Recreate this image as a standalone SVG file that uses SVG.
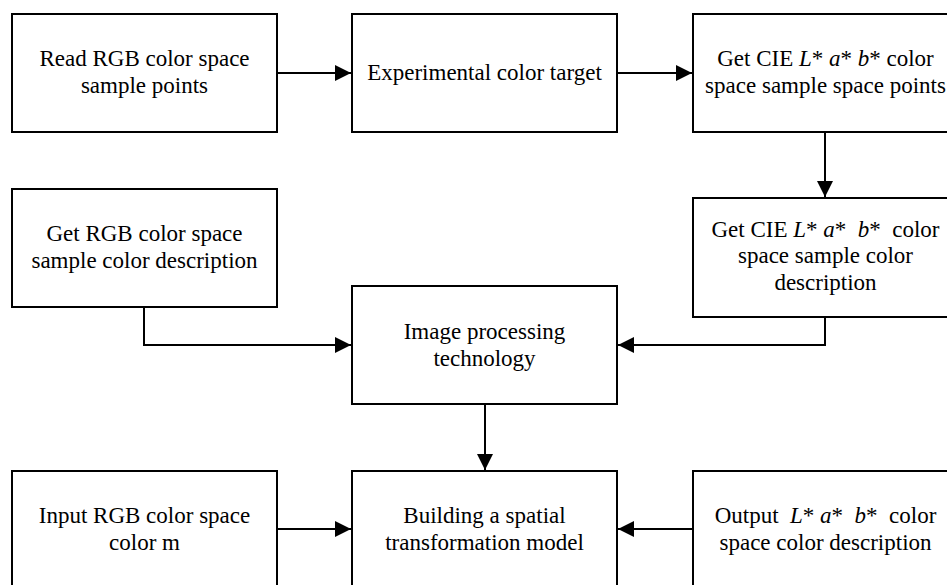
<svg xmlns="http://www.w3.org/2000/svg" width="947" height="585" viewBox="0 0 947 585">
<style>
.box{fill:#fff;stroke:#000;stroke-width:2}
text{font-family:'Liberation Serif','Times New Roman',Tinos,'DejaVu Serif',serif;font-size:23px;fill:#000;text-anchor:middle}
.i{font-style:italic}
.c{fill:none;stroke:#000;stroke-width:2}
</style>
<defs>
<marker id="ah" markerUnits="userSpaceOnUse" markerWidth="16" markerHeight="16" refX="16" refY="8" orient="auto">
<path d="M0,0 L16,8 L0,16 z" fill="#000"/>
</marker>
</defs>
<rect width="947" height="585" fill="#fff"/>
<g id="connectors">
<path class="c" d="M277,73 H351" marker-end="url(#ah)"/>
<path class="c" d="M617,73 H692" marker-end="url(#ah)"/>
<path class="c" d="M825,132 V197" marker-end="url(#ah)"/>
<path class="c" d="M144,307 V345 H351" marker-end="url(#ah)"/>
<path class="c" d="M825,317 V345 H618" marker-end="url(#ah)"/>
<path class="c" d="M485,404 V470" marker-end="url(#ah)"/>
<path class="c" d="M277,529 H351" marker-end="url(#ah)"/>
<path class="c" d="M693,529 H618" marker-end="url(#ah)"/>
</g>
<g id="read-rgb">
<rect class="box" x="12" y="14" width="265" height="118"/>
<text x="144.5" y="66">Read RGB color space</text>
<text x="144.5" y="93">sample points</text>
</g>
<g id="experimental">
<rect class="box" x="352" y="14" width="265" height="118"/>
<text x="484.5" y="80">Experimental color target</text>
</g>
<g id="get-cie-points">
<rect class="box" x="693" y="14" width="265" height="118"/>
<text x="825.5" y="66" xml:space="preserve">Get CIE <tspan class="i">L</tspan>* <tspan class="i">a</tspan>* <tspan class="i">b</tspan>* color</text>
<text x="825.5" y="93">space sample space points</text>
</g>
<g id="get-cie-desc">
<rect class="box" x="693" y="198" width="265" height="119"/>
<text x="825.5" y="237" xml:space="preserve">Get CIE <tspan class="i">L</tspan>* <tspan class="i">a</tspan>*  <tspan class="i">b</tspan>*  color</text>
<text x="825.5" y="263">space sample color</text>
<text x="825.5" y="290">description</text>
</g>
<g id="get-rgb-desc">
<rect class="box" x="12" y="189" width="265" height="118"/>
<text x="144.5" y="241">Get RGB color space</text>
<text x="144.5" y="268">sample color description</text>
</g>
<g id="image-processing">
<rect class="box" x="352" y="286" width="265" height="118"/>
<text x="484.5" y="339">Image processing</text>
<text x="484.5" y="366">technology</text>
</g>
<g id="input-rgb">
<rect class="box" x="12" y="471" width="265" height="118"/>
<text x="144.5" y="523">Input RGB color space</text>
<text x="144.5" y="550">color m</text>
</g>
<g id="building-model">
<rect class="box" x="352" y="471" width="265" height="118"/>
<text x="484.5" y="523">Building a spatial</text>
<text x="484.5" y="550">transformation model</text>
</g>
<g id="output-lab">
<rect class="box" x="693" y="471" width="265" height="118"/>
<text x="825.5" y="523" xml:space="preserve">Output  <tspan class="i">L</tspan>* <tspan class="i">a</tspan>*  <tspan class="i">b</tspan>*  color</text>
<text x="825.5" y="550">space color description</text>
</g>
</svg>
